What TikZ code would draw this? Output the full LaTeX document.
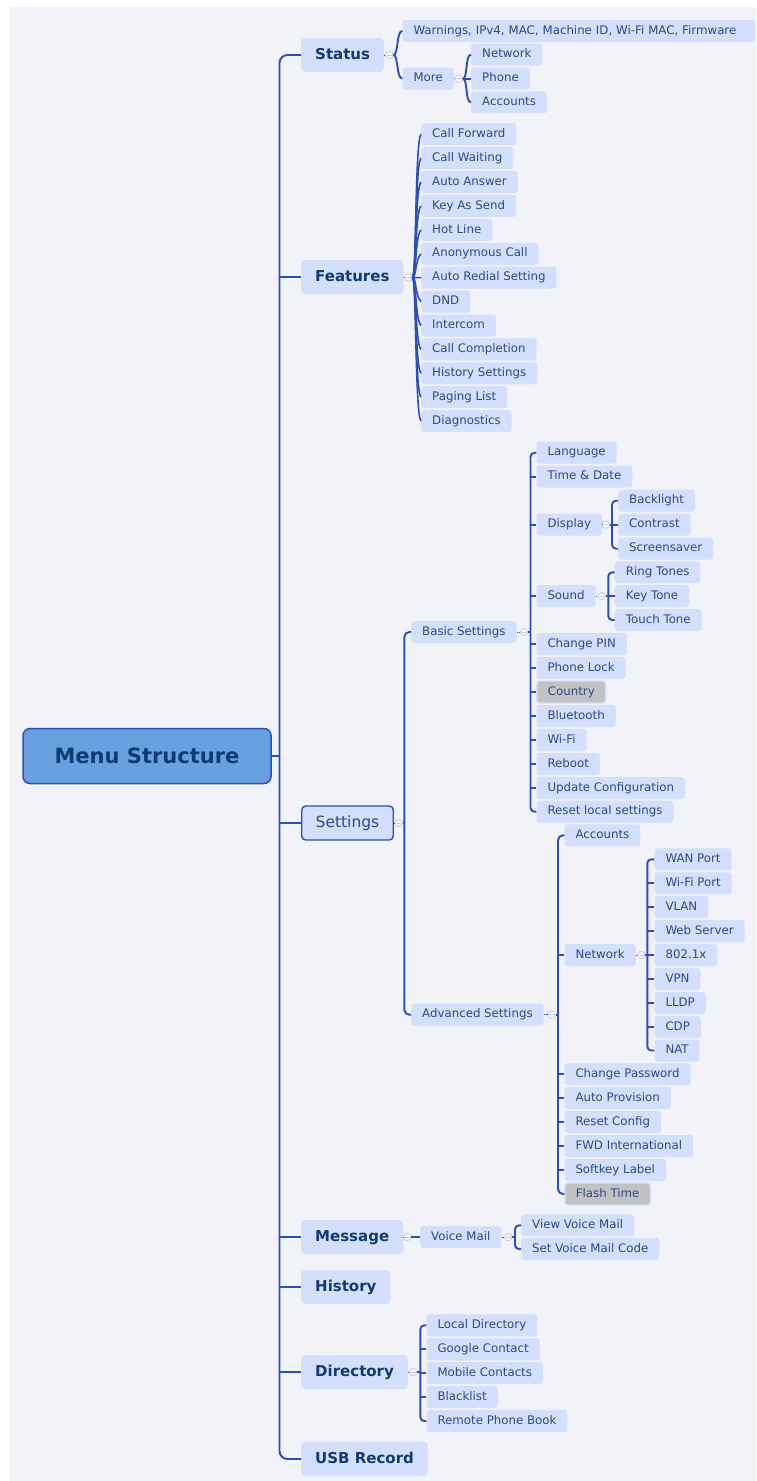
\documentclass[tikz,border=0pt]{standalone}
\usepackage{fontspec}
\setmainfont{DejaVu Sans}
\definecolor{bgc}{HTML}{F2F3F9}
\definecolor{nodec}{HTML}{D3DFFC}
\definecolor{linec}{HTML}{2A4EC4}
\definecolor{txtc}{HTML}{2D4A86}
\definecolor{toptxt}{HTML}{0F3B73}
\definecolor{rootc}{HTML}{68A1DF}
\definecolor{grayc}{HTML}{C2C2C2}
\definecolor{circc}{HTML}{C3CBE4}
\tikzset{
  leafbox/.style={fill=nodec, rounded corners=3pt, text=txtc,
    font=\fontsize{11.8}{13}\selectfont, inner xsep=11pt, inner ysep=0pt,
    minimum height=22pt, text height=8.7pt, text depth=2.4pt, anchor=west},
  grayed/.style={leafbox, fill=grayc, draw=nodec, line width=1.2pt},
  topbox/.style={fill=nodec, rounded corners=4pt, text=toptxt,
    font=\bfseries\fontsize{15}{17}\selectfont, inner xsep=14pt, inner ysep=0pt,
    minimum height=34pt, text height=11pt, text depth=3pt, anchor=west},
  setbox/.style={topbox, draw=linec, line width=1.4pt, text=txtc,
    font=\fontsize{15.5}{18}\selectfont},
  rootbox/.style={fill=rootc, draw=linec, line width=1.5pt, rounded corners=7pt,
    minimum width=248pt, minimum height=55pt, inner sep=0pt, text=toptxt,
    font=\bfseries\fontsize{21}{24}\selectfont},
  circ/.style={circle, minimum size=7.5pt, inner sep=0pt, fill=bgc!60!white, draw=circc, line width=0.8pt,
    path picture={\draw[circc, line width=0.8pt] ([xshift=-2.2pt]path picture bounding box.center) -- ([xshift=2.2pt]path picture bounding box.center);}},
  conn/.style={draw=linec, line width=1.9pt},
  dotl/.style={draw=linec, line width=0.8pt, densely dotted},
}
\begin{document}
\begin{tikzpicture}[x=1pt,y=-1pt]
\useasboundingbox (0,0) rectangle (756,1481);
\fill[white] (0,0) rectangle (756,1481);
\fill[bgc] (9,7) rectangle (756,1481);

% root and top level
\node[rootbox] (root) at (147,756) {Menu Structure};
\node[topbox] (status) at (301,55) {Status};
\node[topbox] (features) at (301,277) {Features};
\node[setbox] (settings) at (301,823) {Settings};
\node[topbox] (message) at (301,1237) {Message};
\node[topbox] (history) at (301,1287) {History};
\node[topbox] (directory) at (301,1372) {Directory};
\node[topbox] (usb) at (301,1459) {USB Record};

% status
\node[leafbox, text width=331pt, align=left] (warn) at (402.3,31) {Warnings, IPv4, MAC, Machine ID, Wi-Fi MAC, Firmware};
\node[leafbox] (more) at (402.3,78.5) {More};
\node[leafbox] (stnet) at (471,54.7) {Network};
\node[leafbox] (stphone) at (471,78.7) {Phone};
\node[leafbox] (stacc) at (471,102.3) {Accounts};

% features
\node[leafbox] (f1) at (421,134.2) {Call Forward};
\node[leafbox] (f2) at (421,158.1) {Call Waiting};
\node[leafbox] (f3) at (421,182.0) {Auto Answer};
\node[leafbox] (f4) at (421,205.9) {Key As Send};
\node[leafbox] (f5) at (421,229.9) {Hot Line};
\node[leafbox] (f6) at (421,253.8) {Anonymous Call};
\node[leafbox] (f7) at (421,277.7) {Auto Redial Setting};
\node[leafbox] (f8) at (421,301.6) {DND};
\node[leafbox] (f9) at (421,325.5) {Intercom};
\node[leafbox] (f10) at (421,349.4) {Call Completion};
\node[leafbox] (f11) at (421,373.3) {History Settings};
\node[leafbox] (f12) at (421,397.2) {Paging List};
\node[leafbox] (f13) at (421,421.1) {Diagnostics};

% settings
\node[leafbox] (basic) at (411,632) {Basic Settings};
\node[leafbox] (adv) at (411,1014.7) {Advanced Settings};

\node[leafbox] (lang) at (536.3,452.7) {Language};
\node[leafbox] (time) at (536.3,476.6) {Time \& Date};
\node[leafbox] (display) at (536.3,524.7) {Display};
\node[leafbox] (sound) at (536.3,596) {Sound};
\node[leafbox] (pin) at (536.3,644) {Change PIN};
\node[leafbox] (lock) at (536.3,668) {Phone Lock};
\node[grayed] (country) at (536.3,692) {Country};
\node[leafbox] (bt) at (536.3,716) {Bluetooth};
\node[leafbox] (wifi) at (536.3,740) {Wi-Fi};
\node[leafbox] (reboot) at (536.3,764) {Reboot};
\node[leafbox] (update) at (536.3,788) {Update Configuration};
\node[leafbox] (resetl) at (536.3,811.7) {Reset local settings};

\node[leafbox] (backl) at (618,500.7) {Backlight};
\node[leafbox] (contr) at (618,524.7) {Contrast};
\node[leafbox] (scrs) at (618,548.7) {Screensaver};

\node[leafbox] (ring) at (614.7,572.3) {Ring Tones};
\node[leafbox] (keyt) at (614.7,596) {Key Tone};
\node[leafbox] (touch) at (614.7,620) {Touch Tone};

\node[leafbox] (aacc) at (564.3,835.3) {Accounts};
\node[leafbox] (anet) at (564.3,955) {Network};
\node[leafbox] (chpw) at (564.3,1074.3) {Change Password};
\node[leafbox] (aprov) at (564.3,1098) {Auto Provision};
\node[leafbox] (rcfg) at (564.3,1122) {Reset Config};
\node[leafbox] (fwd) at (564.3,1146) {FWD International};
\node[leafbox] (soft) at (564.3,1170) {Softkey Label};
\node[grayed] (flash) at (564.3,1194) {Flash Time};

\node[leafbox] (wan) at (654.3,859.3) {WAN Port};
\node[leafbox] (wfp) at (654.3,883.3) {Wi-Fi Port};
\node[leafbox] (vlan) at (654.3,907) {VLAN};
\node[leafbox] (web) at (654.3,931) {Web Server};
\node[leafbox] (dot1x) at (654.3,955) {802.1x};
\node[leafbox] (vpn) at (654.3,979) {VPN};
\node[leafbox] (lldp) at (654.3,1003) {LLDP};
\node[leafbox] (cdp) at (654.3,1027) {CDP};
\node[leafbox] (nat) at (654.3,1050.5) {NAT};

% message
\node[leafbox] (vm) at (420,1237) {Voice Mail};
\node[leafbox] (vvm) at (521,1225.3) {View Voice Mail};
\node[leafbox] (svm) at (521,1249) {Set Voice Mail Code};

% directory
\node[leafbox] (d1) at (426.3,1325.3) {Local Directory};
\node[leafbox] (d2) at (426.3,1349.3) {Google Contact};
\node[leafbox] (d3) at (426.3,1373) {Mobile Contacts};
\node[leafbox] (d4) at (426.3,1397) {Blacklist};
\node[leafbox] (d5) at (426.3,1421) {Remote Phone Book};

% collapse circles
\node[circ] (cstatus) at (389.3,55) {};
\node[circ] (cmore) at (458.7,78.7) {};
\node[circ] (cfeat) at (408.3,277.5) {};
\node[circ] (cset) at (398.7,823) {};
\node[circ] (cbasic) at (524,632) {};
\node[circ] (cdisp) at (605.7,524.7) {};
\node[circ] (csound) at (601.7,596) {};
\node[circ] (cadv) at (551.7,1014.7) {};
\node[circ] (cnet) at (641.3,955) {};
\node[circ] (cmsg) at (407.3,1237) {};
\node[circ] (cvm) at (508.3,1237) {};
\node[circ] (cdir) at (413.3,1372) {};

% dotted links parent -> circle
\draw[dotl] (status.east) -- (cstatus.west);
\draw[dotl] (more.east) -- (cmore.west);
\draw[dotl] (features.east) -- (cfeat.west);
\draw[dotl] (settings.east) -- (cset.west);
\draw[dotl] (basic.east) -- (cbasic.west);
\draw[dotl] (display.east) -- (cdisp.west);
\draw[dotl] (sound.east) -- (csound.west);
\draw[dotl] (adv.east) -- (cadv.west);
\draw[dotl] (anet.east) -- (cnet.west);
\draw[dotl] (message.east) -- (cmsg.west);
\draw[dotl] (vm.east) -- (cvm.west);
\draw[dotl] (directory.east) -- (cdir.west);

% trunk
\coordinate (tr) at (279.5,0);
\draw[conn, rounded corners=8pt] (status.west) -- (status.west -| tr) -- (usb.west -| tr) -- (usb.west);
\draw[conn] (root.east) -- (root.east -| tr);
\foreach \n in {features,settings,message,history,directory}
  \draw[conn] (\n.west -| tr) -- (\n.west);

% status curves
\foreach \n in {warn,more}
  \draw[conn] (cstatus.east) .. controls +(5,0) and +(-6,0) .. (\n.west);
\foreach \n in {stnet,stacc}
  \draw[conn] (cmore.east) .. controls +(5,0) and +(-6,0) .. (\n.west);
\draw[conn] (cmore.east) -- (stphone.west);

% features curves
\foreach \n/\s in {f1/1,f2/1,f3/1,f4/1,f5/1,f6/1,f8/-1,f9/-1,f10/-1,f11/-1,f12/-1,f13/-1}
  \draw[conn, line width=1.6pt] (cfeat.east) .. controls +(4,0) and +(-6,6*\s) .. (\n.west);
\draw[conn, line width=1.6pt] (cfeat.east) -- (f7.west);

% settings group
\coordinate (sv) at (404.3,0);
\draw[conn, rounded corners=5pt] (basic.west) -- (basic.west -| sv) -- (adv.west -| sv) -- (adv.west);
\draw[conn] (cset.east) -- (cset.east -| sv);

% basic group
\coordinate (bv) at (530.5,0);
\draw[conn, rounded corners=4pt] (lang.west) -- (lang.west -| bv) -- (resetl.west -| bv) -- (resetl.west);
\foreach \n in {time,display,sound,pin,lock,country,bt,wifi,reboot,update}
  \draw[conn] (\n.west -| bv) -- (\n.west);
\draw[conn] (cbasic.east) -- (cbasic.east -| bv);

% display group
\coordinate (dv) at (612,0);
\draw[conn, rounded corners=4pt] (backl.west) -- (backl.west -| dv) -- (scrs.west -| dv) -- (scrs.west);
\draw[conn] (contr.west -| dv) -- (contr.west);
\draw[conn] (cdisp.east) -- (cdisp.east -| dv);

% sound group
\coordinate (snv) at (608.3,0);
\draw[conn, rounded corners=4pt] (ring.west) -- (ring.west -| snv) -- (touch.west -| snv) -- (touch.west);
\draw[conn] (keyt.west -| snv) -- (keyt.west);
\draw[conn] (csound.east) -- (csound.east -| snv);

% advanced group
\coordinate (av) at (558,0);
\draw[conn, rounded corners=5pt] (aacc.west) -- (aacc.west -| av) -- (flash.west -| av) -- (flash.west);
\foreach \n in {anet,chpw,aprov,rcfg,fwd,soft}
  \draw[conn] (\n.west -| av) -- (\n.west);
\draw[conn] (cadv.east) -- (cadv.east -| av);

% network group
\coordinate (nv) at (647.3,0);
\draw[conn, rounded corners=4pt] (wan.west) -- (wan.west -| nv) -- (nat.west -| nv) -- (nat.west);
\foreach \n in {wfp,vlan,web,dot1x,vpn,lldp,cdp}
  \draw[conn] (\n.west -| nv) -- (\n.west);
\draw[conn] (cnet.east) -- (cnet.east -| nv);

% message
\draw[conn] (cmsg.east) -- (vm.west);
\coordinate (vv) at (515,0);
\draw[conn, rounded corners=4pt] (vvm.west) -- (vvm.west -| vv) -- (svm.west -| vv) -- (svm.west);
\draw[conn] (cvm.east) -- (cvm.east -| vv);

% directory
\coordinate (dirv) at (420.3,0);
\draw[conn, rounded corners=4pt] (d1.west) -- (d1.west -| dirv) -- (d5.west -| dirv) -- (d5.west);
\foreach \n in {d2,d3,d4}
  \draw[conn] (\n.west -| dirv) -- (\n.west);
\draw[conn] (cdir.east) -- (cdir.east -| dirv);
\end{tikzpicture}
\end{document}
